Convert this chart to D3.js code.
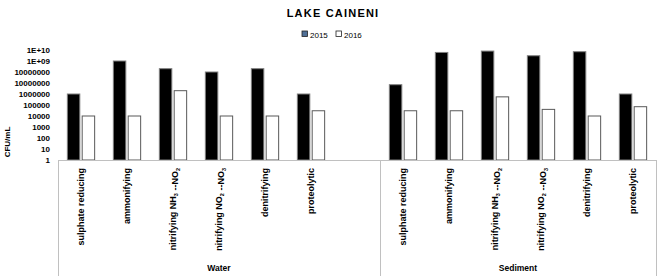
<!DOCTYPE html>
<meta charset="utf-8">
<script src="https://cdn.jsdelivr.net/npm/d3@7"></script>
<style>
  body { margin: 0; background: #fff; }
  text { font-family: "Liberation Sans", Arial, sans-serif; font-weight: bold; fill: #000; }
</style>
<body>
<script>

var width = 663
var height = 276

// data (CFU/mL, log scale)
var groups = ["Water", "Sediment"]
var categories = ["sulphate reducing", "ammonifying", "nitrifying NH_3 --NO_2", "nitrifying NO_2 --NO_3", "denitrifying", "proteolytic"]
var series = ["2015", "2016"]
var water2015 = [1e6, 1e9, 2e8, 1e8, 2e8, 1e6]
var water2016 = [1e4, 1e4, 2e6, 1e4, 1e4, 3e4]
var sediment2015 = [7e6, 6e9, 8e9, 3e9, 7e9, 1e6]
var sediment2016 = [3e4, 3e4, 5.5e5, 4e4, 1e4, 7e4]
var tickValues = [1, 10, 100, 1000, 1e4, 1e5, 1e6, 1e7, 1e8, 1e9, 1e10]
var tickLabels = ["1", "10", "100", "1000", "10000", "100000", "1000000", "10000000", "10000000", "1E+09", "1E+10"]

var values = {
  Water: { "2015": water2015, "2016": water2016 },
  Sediment: { "2015": sediment2015, "2016": sediment2016 }
}

// slots: 6 water categories + one empty slot, then 6 sediment categories
var slots = []
categories.forEach(function(c, i) { slots.push({ group: "Water", cat: c, i: i }) })
slots.push({ group: "Water", cat: null, i: -1 })
categories.forEach(function(c, i) { slots.push({ group: "Sediment", cat: c, i: i }) })

var plotLeft = 58, plotRight = 656, plotTop = 50, base = 160

var x = d3.scaleBand().domain(d3.range(slots.length)).range([plotLeft, plotRight]).padding(0)
var xs = d3.scaleBand().domain(series).range([0, x.bandwidth()]).paddingInner(0.16).paddingOuter(0.63)
var y = d3.scaleLog().domain([1, 1e10]).range([base, plotTop])

var svg = d3.select("body").append("svg")
    .attr("width", width)
    .attr("height", height)

// title + legend
svg.append("text")
   .attr("x", 333).attr("y", 17)
   .attr("text-anchor", "middle")
   .style("font-size", "11px")
   .style("letter-spacing", "1.2px")
   .text("LAKE CAINENI")

var legend = svg.append("g").attr("transform", "translate(302,31)")
var legFill = { "2015": "#4f6f96", "2016": "#fff" }
series.forEach(function(s, i) {
  var g = legend.append("g").attr("transform", "translate(" + (i * 34) + ",0)")
  g.append("rect").attr("x", 0).attr("y", 0).attr("width", 5.5).attr("height", 5.5)
   .attr("fill", legFill[s]).attr("stroke", "#222").attr("stroke-width", 0.8)
  g.append("text").attr("x", 8).attr("y", 6.5).style("font-size", "8px").style("font-weight", "normal").text(s)
})

// y axis (labels only)
var yAxis = svg.append("g")
    .attr("transform", "translate(" + plotLeft + ",0)")
    .call(d3.axisLeft(y).tickValues(tickValues).tickSize(0).tickPadding(8)
          .tickFormat(function(d, i) { return tickLabels[i] }))
yAxis.select(".domain").remove()
yAxis.selectAll("text").style("font-size", "8px").style("font-family", "Liberation Sans, Arial, sans-serif").style("font-weight", "bold").attr("fill", "#000")

svg.append("text")
   .attr("transform", "translate(10,142) rotate(-90)")
   .attr("text-anchor", "middle")
   .style("font-size", "8px")
   .text("CFU/mL")

// bars
var barData = []
slots.forEach(function(sl, k) {
  if (sl.cat === null) return
  series.forEach(function(s) {
    barData.push({ slot: k, s: s, v: values[sl.group][s][sl.i] })
  })
})

svg.append("g").selectAll("rect").data(barData).join("rect")
   .attr("x", function(d) { return x(d.slot) + xs(d.s) })
   .attr("y", function(d) { return y(d.v) })
   .attr("width", xs.bandwidth())
   .attr("height", function(d) { return base - y(d.v) })
   .attr("fill", function(d) { return d.s === "2015" ? "#000" : "#fff" })
   .attr("stroke", function(d) { return d.s === "2015" ? "#7f7f7f" : "#595959" })
   .attr("stroke-width", 1)

// category axis with group boxes
var axisColor = "#c0c0c0"
svg.append("line").attr("x1", plotLeft).attr("x2", plotRight).attr("y1", base + 0.5).attr("y2", base + 0.5)
   .attr("stroke", axisColor).attr("stroke-width", 1)
var splitX = x(6) + x.bandwidth()
;[plotLeft, splitX, plotRight].forEach(function(px) {
  svg.append("line").attr("x1", px + 0.5).attr("x2", px + 0.5).attr("y1", base).attr("y2", height)
     .attr("stroke", axisColor).attr("stroke-width", 1)
})

// category labels, rotated, with subscripts
function addLabel(sel, label) {
  var parts = label.split(/(_\d)/)
  parts.forEach(function(p) {
    if (p === "") return
    if (p[0] === "_") {
      sel.append("tspan").attr("dy", 2).style("font-size", "5.5px").text(p.slice(1))
      sel.append("tspan").attr("dy", -2).text("")
    } else {
      sel.append("tspan").text(p)
    }
  })
}

slots.forEach(function(sl, k) {
  if (sl.cat === null) return
  var t = svg.append("text")
     .attr("transform", "translate(" + (x(k) + x.bandwidth() / 2 + 3) + "," + (base + 8) + ") rotate(-90)")
     .attr("text-anchor", "end")
     .style("font-size", "9px")
  addLabel(t, sl.cat)
})

// group labels
svg.append("text").attr("x", (plotLeft + splitX) / 2).attr("y", 271).attr("text-anchor", "middle")
   .style("font-size", "8.5px").text(groups[0])
svg.append("text").attr("x", (splitX + plotRight) / 2).attr("y", 271).attr("text-anchor", "middle")
   .style("font-size", "8.5px").text(groups[1])

</script>
</body>
